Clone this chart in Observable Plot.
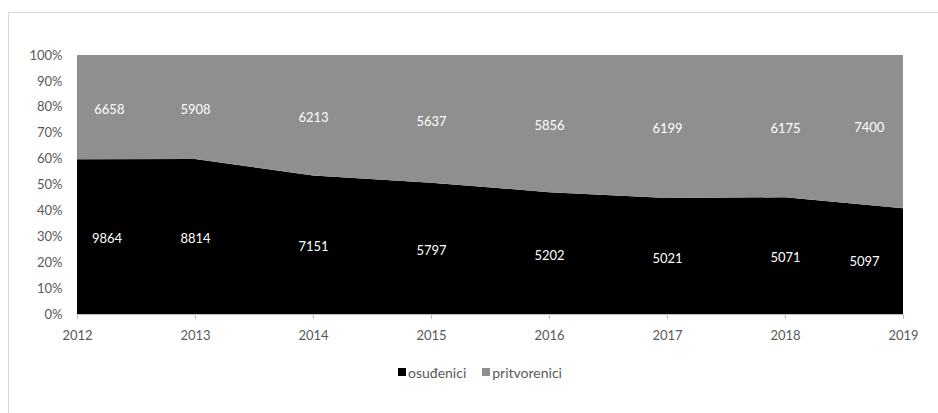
<!DOCTYPE html>
<html>
<head>
<meta charset="utf-8">
<script src="https://cdn.jsdelivr.net/npm/d3@7"></script>
<script src="https://cdn.jsdelivr.net/npm/@observablehq/plot@0.6"></script>
<style>
  body { margin: 0; background: #fff; font-family: Lato, "Open Sans", sans-serif; }
  #frame { position: absolute; left: 8px; top: 12px; width: 1000px; height: 500px; border: 1px solid #d9d9d9; box-sizing: border-box; }
  #chart { position: relative; }
  .legend { display: flex; align-items: center; padding-left: 398px; margin-top: 20px; height: 16px; font-size: 14px; color: #595959; }
  .legend .sw { width: 8px; height: 8px; display: inline-block; margin-right: 2px; }
  .legend .item { display: flex; align-items: center; margin-right: 16px; }
</style>
</head>
<body>
<div id="frame"></div>
<div id="chart"></div>
<script>
const years = [2012, 2013, 2014, 2015, 2016, 2017, 2018, 2019];
const osudenici = [9864, 8814, 7151, 5797, 5202, 5021, 5071, 5097];
const pritvorenici = [6658, 5908, 6213, 5637, 5856, 6199, 6175, 7400];
const seriesNames = ["osuđenici", "pritvorenici"];
const seriesColors = ["#000000", "#8f8f8f"];
const yTicks = [0, 0.1, 0.2, 0.3, 0.4, 0.5, 0.6, 0.7, 0.8, 0.9, 1];

const rows = [];
years.forEach((y, i) => {
  rows.push({year: y, series: seriesNames[0], value: osudenici[i]});
  rows.push({year: y, series: seriesNames[1], value: pritvorenici[i]});
});

// label positions: middle of each band; first and last nudged inward like Excel does
const shares = years.map((y, i) => osudenici[i] / (osudenici[i] + pritvorenici[i]));
const shareAt = x => {
  const i = Math.min(years.length - 2, Math.max(0, Math.floor(x - years[0])));
  const t = x - years[i];
  return shares[i] + (shares[i + 1] - shares[i]) * t;
};
const shiftFirst = 0.25, shiftLastA = -0.33, shiftLastB = -0.29;
const labels = [];
years.forEach((y, i) => {
  const n = years.length - 1;
  const xa = y + (i === 0 ? shiftFirst : i === n ? shiftLastA : 0);
  const xb = y + (i === 0 ? shiftFirst + 0.02 : i === n ? shiftLastB : 0);
  labels.push({x: xa, y: shareAt(xa) / 2, text: String(osudenici[i])});
  labels.push({x: xb, y: (shareAt(xb) + 1) / 2 + (i === n ? 0.02 : 0), text: String(pritvorenici[i])});
});

const chart = Plot.plot({
  width: 938,
  height: 344,
  marginLeft: 77,
  marginRight: 35,
  marginTop: 55,
  marginBottom: 30,
  style: {fontFamily: "Lato, 'Open Sans', sans-serif", fontSize: "13px", color: "#595959", background: "transparent"},
  x: {domain: [2012, 2019], label: null},
  y: {domain: [0, 1], label: null},
  color: {domain: seriesNames, range: seriesColors},
  marks: [
    Plot.areaY(rows, Plot.stackY({offset: "normalize"}, {x: "year", y: "value", z: "series", fill: "series"})),
    Plot.ruleY([0], {stroke: "#bfbfbf"}),
    Plot.axisX({ticks: years, tickFormat: "d", tickSize: 5, tickPadding: 11, stroke: "#bfbfbf", fill: "#595959"}),
    Plot.axisY({ticks: yTicks, tickFormat: d3.format(".0%"), tickSize: 0, tickPadding: 15, fill: "#595959"}),
    Plot.text(labels, {x: "x", y: "y", text: "text", fill: "white", fontSize: 13, dy: 2})
  ]
});
document.getElementById("chart").appendChild(chart);

const legend = document.createElement("div");
legend.className = "legend";
seriesNames.forEach((name, i) => {
  const item = document.createElement("span");
  item.className = "item";
  const sw = document.createElement("span");
  sw.className = "sw";
  sw.style.background = seriesColors[i];
  item.appendChild(sw);
  item.appendChild(document.createTextNode(name));
  legend.appendChild(item);
});
document.getElementById("chart").appendChild(legend);
</script>
</body>
</html>
